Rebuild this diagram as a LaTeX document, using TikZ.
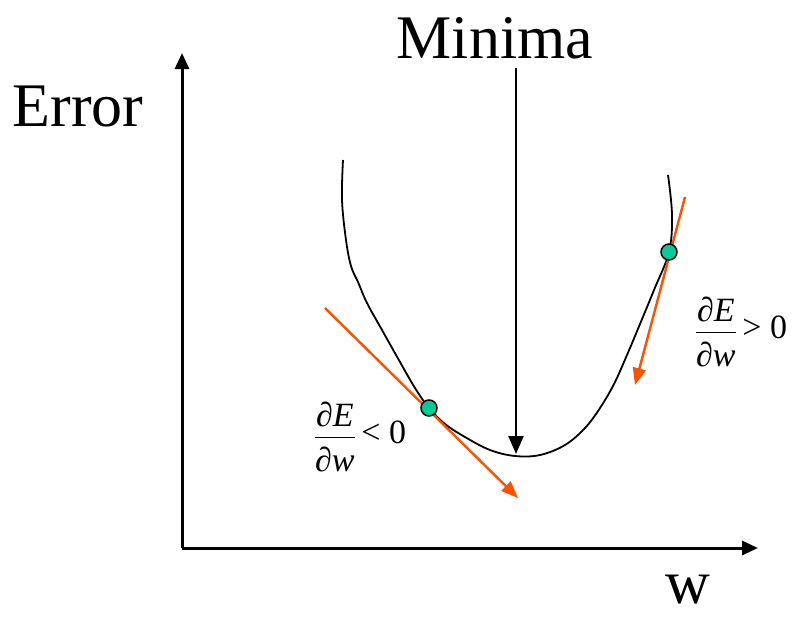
\documentclass[tikz,border=0pt]{standalone}
\usepackage{amsmath}
\usepackage{fontspec}
\setmainfont{Liberation Serif}
\usetikzlibrary{arrows.meta}
\definecolor{tanorange}{RGB}{255,80,0}
\definecolor{dotgreen}{RGB}{0,204,153}
\newcommand{\dEdw}{\ensuremath{\dfrac{\text{\itshape ∂E}\rule[-7pt]{0pt}{1pt}}{\rule{0pt}{31pt}\text{\itshape ∂w}}}}

\begin{document}
\begin{tikzpicture}[x=1pt, y=-1pt,
      axis/.style={line width=3pt, -{Triangle[length=16pt, width=14pt]}},
      big/.style={font=\fontsize{62}{62}\selectfont, inner sep=0pt},
      deriv/.style={font=\fontsize{34}{40}\selectfont, inner sep=0pt},
      tangent/.style={tanorange, line width=2.4pt, -{Triangle[length=17pt, width=13pt]}},
      pt/.style={circle, draw, line width=1.5pt, fill=dotgreen, minimum size=16pt, inner sep=0pt}]
    \useasboundingbox (0,0) rectangle (792,616);
    % axes
    \coordinate (orig) at (182,548);
    \coordinate (ytop) at (182,53);
    \coordinate (xend) at (758,548);
    \draw[axis] (orig) -- (ytop);
    \draw[axis] (orig) -- (xend);
    \node[big] (err) at (78,107) {Error};
    \node[big] (wlab) at (688,590) {w};
    % error curve
    \draw[line width=1.8pt] plot[smooth, tension=0.6] coordinates {
      (343,160) (342,200) (346,240) (351,266) (358,282) (367,303)
      (382,330) (400,362) (415,388) (429,408) (445,424) (465,437)
      (490,450) (515,456) (540,455) (565,445) (585,428) (600,408)
      (614,384) (627,355) (640,324) (654,290) (669,252) (672,215) (668,175)};
    % minima
    \node[big] (minima) at (495,38) {Minima};
    \coordinate (mtop) at (516,68);
    \coordinate (mbot) at (516,454);
    \draw[line width=2.4pt, -{Triangle[length=18pt, width=15pt]}] (mtop) -- (mbot);
    % tangents
    \coordinate (la) at (325,308);
    \coordinate (lb) at (518,498);
    \coordinate (ra) at (685,197);
    \coordinate (rb) at (635,385);
    \draw[tangent] (la) -- (lb);
    \draw[tangent] (ra) -- (rb);
    \node[pt] (dl) at (429,408) {};
    \node[pt] (dr) at (669,252) {};
    \node[deriv] (negd) at (360,437) {\dEdw\,< 0};
    \node[deriv] (posd) at (741,332) {\dEdw\,> 0};
\end{tikzpicture}
\end{document}
